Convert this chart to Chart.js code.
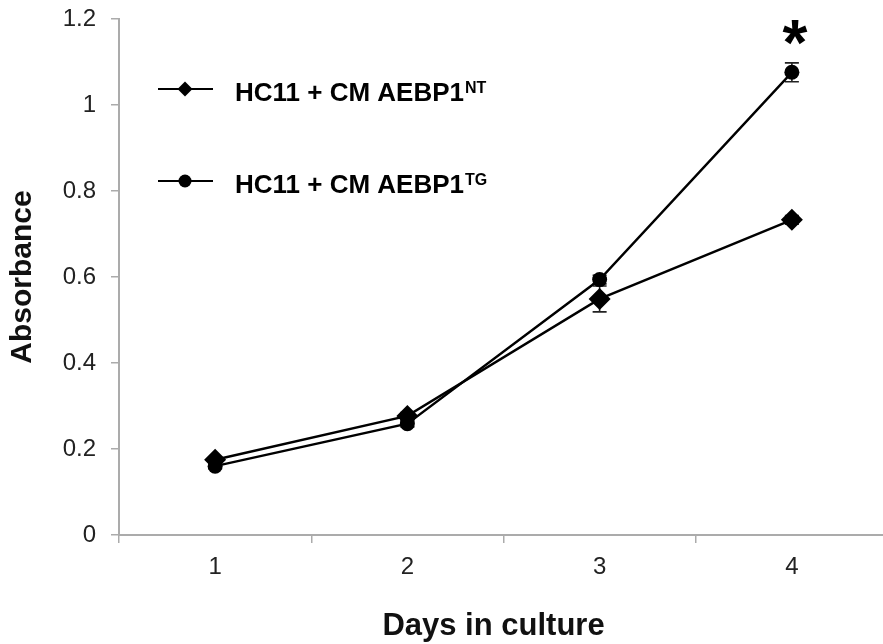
<!DOCTYPE html>
<html>
<head>
<meta charset="utf-8">
<title>Absorbance vs days in culture</title>
<script src="https://cdn.jsdelivr.net/npm/chart.js@4.4.1/dist/chart.umd.min.js"></script>
<style>
  html, body { margin: 0; padding: 0; background: #fff; overflow: hidden; }
  #wrap { width: 899px; height: 644px; }
</style>
</head>
<body>
<div id="wrap"><canvas id="chart"></canvas></div>
<script>
var DAYS = ['1', '2', '3', '4'];
var NT_VALUES = [0.175, 0.277, 0.549, 0.733];
var NT_ERRORS = [0.006, 0.008, 0.030, 0.010];
var TG_VALUES = [0.160, 0.259, 0.594, 1.076];
var TG_ERRORS = [0.006, 0.008, 0.010, 0.022];
var SERIES_NAMES = ['HC11 + CM AEBP1', 'HC11 + CM AEBP1'];
var SERIES_SUPS = ['NT', 'TG'];
var Y_TICKS = [0, 0.2, 0.4, 0.6, 0.8, 1, 1.2];
var TG_SIGNIFICANT = [false, false, false, true];

var FONT = "'Liberation Sans', Arial, sans-serif";
var AXIS_GREY = '#ababab';

function markerPath(ctx, style, x, y, r) {
  ctx.beginPath();
  if (style === 'rectRot') {
    ctx.moveTo(x - r, y);
    ctx.lineTo(x, y - r);
    ctx.lineTo(x + r, y);
    ctx.lineTo(x, y + r);
    ctx.closePath();
  } else {
    ctx.arc(x, y, r, 0, Math.PI * 2);
  }
}

// Vertical error bars with caps, drawn under the markers.
var errorBarPlugin = {
  id: 'errorBars',
  beforeDatasetsDraw: function (chart) {
    var ctx = chart.ctx;
    var y = chart.scales.y;
    ctx.save();
    ctx.strokeStyle = '#222';
    ctx.lineWidth = 1.6;
    chart.data.datasets.forEach(function (ds, i) {
      var meta = chart.getDatasetMeta(i);
      ds.data.forEach(function (v, j) {
        var e = ds.errors[j];
        var x = meta.data[j].x;
        var top = y.getPixelForValue(v + e);
        var bot = y.getPixelForValue(v - e);
        ctx.beginPath();
        ctx.moveTo(x, top); ctx.lineTo(x, bot);
        ctx.moveTo(x - 7, top); ctx.lineTo(x + 7, top);
        ctx.moveTo(x - 7, bot); ctx.lineTo(x + 7, bot);
        ctx.stroke();
      });
    });
    ctx.restore();
  }
};

// Asterisk above significant TG points.
var starPlugin = {
  id: 'stars',
  afterDatasetsDraw: function (chart) {
    var ctx = chart.ctx;
    var meta = chart.getDatasetMeta(1);
    var y = chart.scales.y;
    ctx.save();
    ctx.fillStyle = '#000';
    ctx.font = 'bold 64px ' + FONT;
    ctx.textAlign = 'center';
    ctx.textBaseline = 'alphabetic';
    TG_SIGNIFICANT.forEach(function (sig, j) {
      if (!sig) { return; }
      var m = ctx.measureText('*');
      var cy = y.getPixelForValue(TG_VALUES[j] + TG_ERRORS[j]) - 30;
      var base = cy + (m.actualBoundingBoxAscent - m.actualBoundingBoxDescent) / 2;
      ctx.fillText('*', meta.data[j].x + 3, base);
    });
    ctx.restore();
  }
};

// Legend inside the plot area plus the x axis title.
var legendPlugin = {
  id: 'insideLegend',
  afterDraw: function (chart) {
    var ctx = chart.ctx;
    var area = chart.chartArea;
    var x0 = area.left + 39;
    var rows = [area.top + 70, area.top + 162];
    ctx.save();
    chart.data.datasets.forEach(function (ds, i) {
      var ly = rows[i];
      ctx.strokeStyle = '#000';
      ctx.lineWidth = 2.2;
      ctx.beginPath();
      ctx.moveTo(x0, ly); ctx.lineTo(x0 + 55, ly);
      ctx.stroke();
      ctx.fillStyle = '#000';
      markerPath(ctx, ds.pointStyle, x0 + 27, ly, ds.pointStyle === 'rectRot' ? 7.5 : 6.5);
      ctx.fill();

      ctx.textAlign = 'left';
      ctx.textBaseline = 'alphabetic';
      ctx.font = 'bold 26px ' + FONT;
      var tx = x0 + 77;
      var base = ly + 11.5;
      ctx.fillText(SERIES_NAMES[i], tx, base);
      var w = ctx.measureText(SERIES_NAMES[i]).width;
      ctx.font = 'bold 16px ' + FONT;
      ctx.fillText(SERIES_SUPS[i], tx + w + 1, base - 8);
    });

    ctx.fillStyle = '#111';
    ctx.font = 'bold 31px ' + FONT;
    ctx.textAlign = 'center';
    ctx.textBaseline = 'alphabetic';
    ctx.fillText('Days in culture', (area.left + area.right) / 2 - 10, chart.height - 9);
    ctx.restore();
  }
};

new Chart(document.getElementById('chart'), {
  type: 'line',
  data: {
    labels: DAYS,
    datasets: [{
      label: SERIES_NAMES[0] + SERIES_SUPS[0],
      data: NT_VALUES,
      errors: NT_ERRORS,
      borderColor: '#000',
      backgroundColor: '#000',
      borderWidth: 2.4,
      tension: 0,
      pointStyle: 'rectRot',
      pointRadius: 11,
      pointBorderWidth: 0,
      pointBackgroundColor: '#000'
    }, {
      label: SERIES_NAMES[1] + SERIES_SUPS[1],
      data: TG_VALUES,
      errors: TG_ERRORS,
      borderColor: '#000',
      backgroundColor: '#000',
      borderWidth: 2.4,
      tension: 0,
      pointStyle: 'circle',
      pointRadius: 7.5,
      pointBorderWidth: 0,
      pointBackgroundColor: '#000'
    }]
  },
  options: {
    responsive: true,
    maintainAspectRatio: false,
    animation: false,
    layout: { padding: { top: 19, right: 0, bottom: 0, left: 0 } },
    plugins: { legend: { display: false }, tooltip: { enabled: false } },
    scales: {
      x: {
        offset: true,
        grid: { offset: true, drawOnChartArea: false, drawTicks: true, tickLength: 8, color: AXIS_GREY, lineWidth: 1.5 },
        border: { color: AXIS_GREY, width: 2 },
        ticks: { color: '#222', padding: 10, font: { family: FONT, size: 24 } },
        afterFit: function (scale) {
          scale.height = 109;
          scale.paddingLeft = 0;
          scale.paddingRight = 0;
        }
      },
      y: {
        min: 0,
        max: 1.2,
        afterBuildTicks: function (scale) {
          scale.ticks = Y_TICKS.map(function (v) { return { value: v }; });
        },
        grid: { drawOnChartArea: false, drawTicks: true, tickLength: 8, color: AXIS_GREY, lineWidth: 1.5 },
        border: { color: AXIS_GREY, width: 2 },
        ticks: {
          color: '#222',
          padding: 15,
          font: { family: FONT, size: 24 },
          callback: function (v) { return String(+Number(v).toFixed(1)); }
        },
        title: {
          display: true,
          text: 'Absorbance',
          color: '#111',
          padding: { top: 5, bottom: 0 },
          font: { family: FONT, size: 30, weight: 'bold' }
        },
        afterFit: function (scale) {
          scale.width = 119;
          scale.paddingTop = 0;
          scale.paddingBottom = 0;
        }
      }
    }
  },
  plugins: [errorBarPlugin, starPlugin, legendPlugin]
});
</script>
</body>
</html>
